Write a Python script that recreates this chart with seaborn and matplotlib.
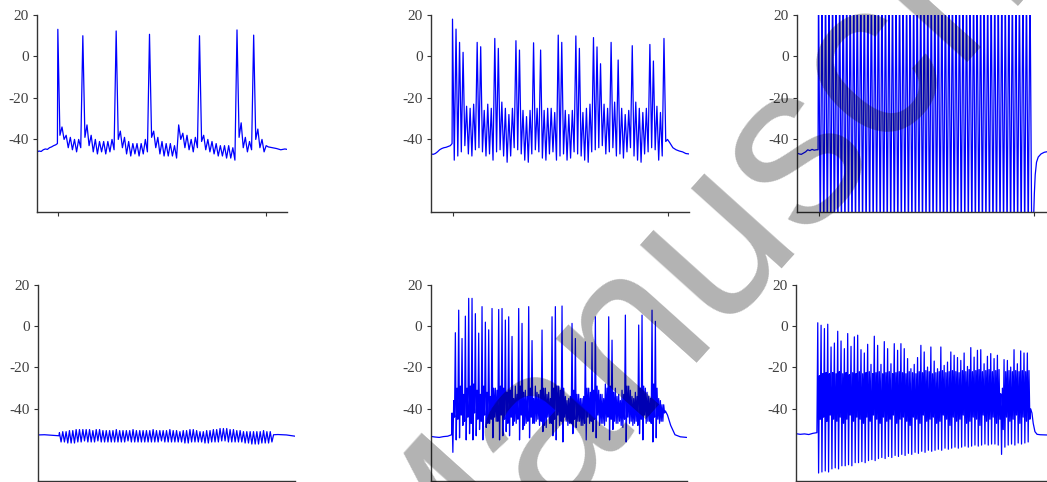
import matplotlib
matplotlib.use("Agg")
import matplotlib.pyplot as plt
import seaborn as sns

sns.set_theme(style="ticks")
plt.rcParams["font.family"] = ["Liberation Serif", "DejaVu Serif"]
plt.rcParams["axes.unicode_minus"] = False

# ---------------------------------------------------------------------------
# Membrane potential traces (mV).  Each trace: a resting stretch before the
# stimulus, one list per vertex kind for every oscillation cycle during the
# stimulus (0 - 1000 ms), and the recovery stretch afterwards.
# ---------------------------------------------------------------------------
STIM_TICKS = [0, 1000]
Y_TICKS = [-40, -20, 0, 20]

# A: sparse spiking on top of subthreshold oscillations
a_pre_t = [-100, -90, -80, -70, -60, -50, -40, -30, -20, -10, -2]
a_pre_v = [-46, -45.6, -45.8, -45, -44.6, -44.8, -44, -43.6, -43, -42.6, -42]
a_hi = [13.1, -34, -38, -39, -40, -40, 10, -33, -38, -40, -41, -41, -41, -40,
        12.3, -36, -39, -41, -42, -42, -42, -40, 10.7, -36, -39, -41, -42, -42,
        -43, -33, -37, -38, -40, -39, 10, -38, -40, -41, -42, -43, -43, -43,
        -44, 12.8, -32, -39, -41, 10.3, -35, -40]
a_lo = [-38, -40, -44, -45, -46, -44, -39, -43, -46, -47, -46, -47, -46, -45,
        -40, -44, -47, -48, -47, -48, -47, -46, -39, -44, -47, -48, -48, -48,
        -49, -40, -44, -45, -46, -44, -41, -45, -46, -47, -48, -48, -49, -49,
        -50, -39, -44, -46, -45, -40, -44, -46]
a_post_t = [1000, 1010, 1030, 1050, 1070, 1090, 1100]
a_post_v = [-43, -43.6, -44, -44.4, -45, -44.6, -44.8]

# B: irregular bursting
b_pre_t = [-100, -90, -80, -70, -60, -50, -40, -30, -20, -10, -2]
b_pre_v = [-47, -47.2, -46.8, -46, -45, -44.4, -44, -43.8, -43.4, -43, -42]
b_hi = [18, 13.2, 6.8, 2, -24, -25, -23, 6.8, 4.7, -26, -23, -25, 8.7, 3.9,
        -22, -25, -28, -25, 7.6, 3.1, -26, -29, -26, 6.6, -25, 3.1, -26, -25,
        -25, -27, 10.3, 6.8, -26, -28, -26, 9.9, 3.9, -27, -25, -23, 9.1, 4.6,
        -3.5, -23, -25, 6.8, -22, -1.7, -25, -28, -26, 5.2, -22, -25, -27,
        -25, 5.8, -2.2, -24, -27, 8.7]
b_lo = [-50, -48, -46, -43, -47, -48, -45, -44, -46, -48, -47, -50, -46, -45,
        -48, -51, -48, -44, -45, -47, -50, -51, -47, -45, -46, -49, -50, -47,
        -46, -50, -48, -47, -50, -49, -46, -47, -48, -50, -51, -46, -45, -44,
        -43, -47, -46, -44, -48, -47, -49, -46, -44, -48, -50, -51, -47, -46,
        -44, -45, -50, -48, -41]
b_post_t = [1000, 1010, 1025, 1040, 1055, 1070, 1085, 1100]
b_post_v = [-40, -41.5, -44, -45, -45.6, -46, -46.8, -47]

# C: tonic high-frequency firing, spikes exceed the plotted range
c_pre_t = [-100, -90, -80, -70, -60, -50, -40, -30, -20, -10, -2]
c_pre_v = [-46.5, -47, -47.2, -46.6, -46, -45, -45.4, -44.8, -45.2, -45, -45]
c_hi = [38, 36, 39, 37, 38, 36, 37, 39, 38, 36, 37, 38, 39, 37, 36, 38, 37,
        39, 38, 36, 37, 38, 36, 39, 37, 38, 36, 37, 39, 38, 37, 36, 38, 39, 37,
        36, 38, 37, 39, 36, 38, 37, 36, 39, 38, 37, 36, 38, 37, 39, 36, 38, 37,
        36, 39, 38, 37, 36, 38, 37, 39]
c_lo = [-88, -90, -87, -89, -88, -90, -87, -89, -88, -90, -89, -87, -88, -90,
        -89, -88, -87, -90, -89, -88, -87, -89, -90, -88, -87, -89, -88, -90,
        -87, -89, -88, -90, -89, -87, -88, -90, -89, -88, -87, -89, -90, -88,
        -87, -89, -88, -90, -89, -87, -88, -90, -89, -88, -87, -89, -90, -88,
        -87, -89, -88, -90, -89]
c_post_t = [1000, 1004, 1008, 1014, 1022, 1035, 1050, 1070, 1100]
c_post_v = [-80, -66, -57, -51, -48.5, -47, -46.2, -45.8, -45.4]

# D: subthreshold oscillation only
d_pre_t = [-100, -70, -40, -20, -2]
d_pre_v = [-52.6, -52.5, -52.7, -52.8, -53]
d_hi = [-51.5, -51, -51, -50.5, -50.5, -50, -50, -50, -50, -50, -50.5, -50,
        -50, -50.5, -50.5, -50.5, -50.5, -50, -50.5, -50.5, -50.5, -50.5, -50,
        -50.5, -50.5, -50.5, -50.5, -50.5, -50, -50.5, -50.5, -50.5, -50.5, -50,
        -50.5, -50.5, -51, -50.5, -50.5, -50, -50, -50.5, -51, -51, -50.5,
        -50.5, -50, -50, -49.5, -49.5, -49.5, -50, -50, -50.5, -50.5, -51, -51,
        -51, -51, -51, -51, -50.5, -51, -51]
d_lo = [-56, -56, -56.5, -56.5, -56.5, -56, -56, -55.5, -56, -56, -56, -55.5,
        -56, -56, -56, -56, -56, -56, -56, -56, -55.5, -56, -56, -56, -56, -56,
        -56, -56, -56, -56, -55.5, -56, -56, -56, -56, -56, -56, -56.5, -56.5,
        -56, -56, -56, -56, -56.5, -56.5, -56, -56, -56, -55.5, -55.5, -56, -56,
        -56, -56, -56, -56.5, -56.5, -57, -57, -57, -56.5, -56.5, -56.5, -56]
d_post_t = [1000, 1020, 1060, 1100]
d_post_v = [-52.5, -52.4, -52.6, -53.2]

# E: irregular spiking over a fast oscillation
e_pre_t = [-100, -80, -60, -40, -20, -2]
e_pre_v = [-53.3, -53.6, -53.8, -53.4, -53.2, -52.5]
e_hi = [-42, -3.2, 7.7, -6, 4.8, 13.4, 13.4, 6, -3.4, 9.4, 1.9, -1.8, 8.5,
        -30, 8, 8.5, 2.9, 4.5, -5, -29, 8.5, 1.3, -31, 9.4, -7, -29, -33, -1.9,
        -30, -32, 4.5, 9.4, -29, 9.7, -34, -35, 1.3, -6, -33, -35, -7.6, -30,
        -8, 4.5, -31, -33, -28, 4.5, -6.8, -30, -33, -31, 5.3, -29, -34, -32,
        0.5, 5.3, -30, -34, 7.7, 2.3, -35, -38]
e_lo1 = [-61, -55, -54, -48, -55, -52, -55, -53, -50, -55, -49, -47, -54, -46,
         -55, -53, -51, -53, -48, -47, -55, -50, -47, -54, -47, -46, -48, -51,
         -49, -47, -53, -55, -48, -56, -46, -47, -52, -49, -46, -48, -55, -47,
         -51, -54, -48, -47, -46, -55, -50, -47, -46, -49, -56, -47, -48, -46,
         -52, -55, -47, -46, -56, -54, -47, -46]
e_mid = [-36, -30, -29, -33, -30, -29, -28, -31, -33, -29, -32, -34, -30, -31,
         -29, -30, -32, -31, -35, -33, -29, -32, -34, -30, -35, -32, -31, -30,
         -33, -35, -30, -29, -31, -30, -36, -34, -31, -33, -35, -34, -30, -32,
         -31, -29, -33, -35, -30, -29, -32, -34, -36, -33, -29, -31, -35, -34,
         -30, -29, -32, -35, -28, -30, -36, -38]
e_lo2 = [-44, -45, -43, -46, -44, -47, -42, -45, -46, -43, -47, -45, -44, -46,
         -43, -45, -47, -44, -46, -45, -43, -48, -46, -44, -47, -45, -46, -48,
         -44, -47, -45, -43, -46, -44, -48, -47, -45, -46, -48, -47, -44, -46,
         -45, -43, -47, -48, -44, -45, -46, -47, -48, -45, -44, -46, -47, -48,
         -45, -43, -46, -47, -44, -45, -46, -42]
e_post_t = [1000, 1010, 1025, 1045, 1070, 1100]
e_post_v = [-41, -43, -48, -52.5, -53.5, -53.8]

# F: sustained firing with adapting spike height
f_pre_t = [-100, -80, -60, -40, -20, -2]
f_pre_v = [-52, -52.3, -52.1, -52.4, -51.8, -51.5]
f_peak = [1.6, 0.4, -1.2, 0.9, -10.1, -8.2, -2.5, -7.2, -10.9, -3.6, -9.8,
          -5.2, -4.4, -11.4, -13, -8.8, -18.5, -4.9, -9.3, -18.5, -7.5, -10.9,
          -18.2, -8.5, -11.7, -8.5, -10.9, -15.7, -20.6, -18.5, -15.2, -9.3,
          -12.5, -19.8, -10.1, -16.9, -20.6, -10.1, -19, -17.4, -12.5, -14.1,
          -15.2, -16.6, -13, -19.5, -10.4, -15, -11.7, -11.4, -18.2, -14.6,
          -13.3, -15.7, -14.1, -32.7, -16.2, -16.6, -19.8, -11.4, -18.2, -12,
          -13, -13]
f_deep = [-71, -70.5, -70, -70.5, -69, -68.5, -69, -67.5, -67.5, -67, -67.5,
          -66, -66, -65.5, -66, -65, -64.5, -65, -64, -63.5, -64, -63, -63.5,
          -62.5, -63, -62, -62.5, -61.5, -62, -61, -61.5, -60.5, -61, -60,
          -60.5, -60, -59.5, -60, -59, -59.5, -59, -58.5, -59, -58.5, -58,
          -58.5, -58, -57.5, -58, -57.5, -57, -57.5, -57, -57, -57.5, -62,
          -58.5, -57.5, -57, -57.5, -56.5, -57, -56.5, -56]
f_plat = [-24, -23, -22.5, -23, -22.5, -23, -22, -23, -22.5, -23.5, -22.5, -23,
          -22, -23, -22.5, -22, -23, -22.5, -22, -23, -22.5, -22, -23, -22.5,
          -22, -22.5, -23, -22, -22.5, -23, -22, -22.5, -21.5, -22, -23, -22.5,
          -22, -21.5, -22.5, -22, -21.5, -22, -22.5, -21.5, -22, -21, -22,
          -21.5, -21, -22, -21.5, -21, -22, -21.5, -21, -30, -22, -21.5, -22,
          -21.5, -22, -21.5, -22, -21.5]
f_mid = [-45, -44, -46, -43, -45, -46, -44, -47, -45, -43, -46, -44, -45, -47,
         -44, -46, -43, -45, -47, -44, -46, -45, -43, -47, -45, -44, -46, -48,
         -44, -45, -47, -43, -46, -45, -44, -47, -46, -43, -45, -48, -44, -46,
         -45, -43, -47, -46, -44, -45, -48, -43, -46, -45, -44, -47, -45, -50,
         -44, -46, -45, -43, -47, -44, -46, -45]
f_post_t = [1000, 1006, 1012, 1020, 1030, 1045, 1070, 1100]
f_post_v = [-40, -42, -47, -51, -52.3, -52.5, -52.6, -52.7]

WATERMARK = "Manuscript"


def assemble(pre_t, pre_v, cycles, post_t, post_v, t_on, t_off):
    """Join the resting stretch, the per-cycle vertices and the recovery."""
    period = (t_off - t_on) / len(cycles)
    t, v = list(pre_t), list(pre_v)
    for k, cyc in enumerate(cycles):
        step = period / len(cyc)
        for j, val in enumerate(cyc):
            t.append(t_on + k * period + j * step)
            v.append(val)
    return t + list(post_t), v + list(post_v)


traces = [
    assemble(a_pre_t, a_pre_v, list(zip(a_hi, a_lo)), a_post_t, a_post_v, 0, 1000),
    assemble(b_pre_t, b_pre_v, list(zip(b_hi, b_lo)), b_post_t, b_post_v, 0, 1000),
    assemble(c_pre_t, c_pre_v, list(zip(c_hi, c_lo)), c_post_t, c_post_v, 0, 1000),
    assemble(d_pre_t, d_pre_v, list(zip(d_hi, d_lo)), d_post_t, d_post_v, 0, 1000),
    assemble(e_pre_t, e_pre_v, list(zip(e_hi, e_lo1, e_mid, e_lo2)),
             e_post_t, e_post_v, 0, 1000),
    assemble(f_pre_t, f_pre_v, list(zip(f_peak, f_deep, f_plat, f_mid)),
             f_post_t, f_post_v, 2, 1000),
]

W, H = 1047, 482
fig = plt.figure(figsize=(W / 100, H / 100), dpi=100)
fig.patch.set_facecolor("white")

# axes boxes in pixels: left, top, width, height
boxes = [
    (37, 15, 250, 197), (431, 15, 258, 197), (797, 15, 258, 197),
    (38, 284.7, 257, 196.6), (430.7, 284.7, 256, 196.6), (796, 284.7, 256, 196.6),
]

for (t, v), (lx, ty, bw, bh) in zip(traces, boxes):
    ax = fig.add_axes([lx / W, 1 - (ty + bh) / H, bw / W, bh / H])
    ax.set_facecolor("none")
    sns.lineplot(x=t, y=v, ax=ax, color="#0000ff", linewidth=0.9,
                 sort=False, estimator=None)
    ax.set_xlim(-100, 1100)
    ax.set_ylim(-75, 20)
    ax.set_xticks(STIM_TICKS)
    ax.set_xticklabels([])
    ax.set_yticks(Y_TICKS)
    ax.set_yticklabels([str(y) for y in Y_TICKS])
    for side in ("top", "right"):
        ax.spines[side].set_visible(False)
    for side in ("left", "bottom"):
        ax.spines[side].set_color("#333333")
        ax.spines[side].set_linewidth(1.0)
    ax.tick_params(axis="both", direction="out", length=3, width=0.8,
                   color="#333333", labelsize=11, labelcolor="#404040", pad=3)
    ax.set_xlabel("")
    ax.set_ylabel("")

fig.text(0.713, 0.589, WATERMARK, rotation=48, rotation_mode="anchor",
         ha="center", va="center", fontsize=164, color="black", alpha=0.3,
         family=["Liberation Sans", "DejaVu Sans"], zorder=10)

fig.savefig("out.png", dpi=100, facecolor="white")
